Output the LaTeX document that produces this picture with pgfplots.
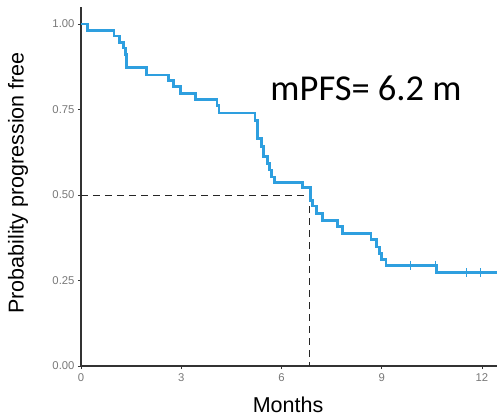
\documentclass[border=0pt]{standalone}
\usepackage{pgfplots}
\pgfplotsset{compat=1.18}
\usepackage{fontspec}
\setmainfont{Liberation Sans}
\newfontfamily\calibri{Carlito}
\definecolor{kmblue}{HTML}{2E9FDF}
\definecolor{ticklab}{RGB}{120,120,120}
\begin{document}
\begin{tikzpicture}
\useasboundingbox (-81pt,-52pt) rectangle (416pt,366pt);
\begin{axis}[
  scale only axis, width=416pt, height=359pt,
  xmin=0, xmax=12.45, ymin=0, ymax=1.05,
  axis lines*=left,
  axis line style={line width=1.1pt, color=black!80},
  xtick={0,3,6,9,12}, ytick={0,0.25,0.5,0.75,1},
  yticklabels={0.00,0.25,0.50,0.75,1.00},
  tick align=outside, tick style={line width=0.9pt, color=black!80},
  major tick length=3pt,
  tick label style={font=\fontsize{11.3}{13}\selectfont, color=ticklab},
  xticklabel style={yshift=-1pt},
  /pgf/number format/assume math mode=true,
  xlabel={Months}, ylabel={Probability progression free},
  label style={font=\fontsize{21.5}{24}\selectfont},
  xlabel style={at={(axis description cs:0.4976,0)}, anchor=base, yshift=-46.5pt},
  ylabel style={at={(axis description cs:-0.1515,0.51)}, anchor=center},
  clip=false,
]
\addplot[black!85, line width=1pt, dash pattern=on 7pt off 5pt] coordinates {(0,0.5) (6.85,0.5) (6.85,0)};
\addplot[const plot, kmblue, line width=2.8pt] coordinates {
(0,1.0) (0.19,0.982) (0.99,0.965) (1.16,0.946) (1.26,0.93) (1.33,0.912)
(1.37,0.873) (1.96,0.851) (2.61,0.835) (2.76,0.817) (2.98,0.798)
(3.43,0.780) (4.07,0.762) (4.13,0.740) (5.21,0.719) (5.29,0.666)
(5.40,0.641) (5.47,0.612) (5.57,0.592) (5.65,0.573) (5.70,0.553)
(5.78,0.537) (6.62,0.521) (6.86,0.485) (6.92,0.468) (7.05,0.445)
(7.23,0.425) (7.68,0.407) (7.83,0.388) (8.68,0.370) (8.85,0.348)
(8.93,0.329) (9.00,0.311) (9.13,0.295) (10.64,0.273) (12.45,0.273)
};
\addplot[only marks, mark=|, mark size=4.5pt, kmblue, mark options={line width=1.3pt}] coordinates {
(9.87,0.295) (10.6,0.295) (11.54,0.273) (11.96,0.273)
};
\node[font=\calibri\fontsize{36.5}{40}\selectfont] at (axis cs:8.53,0.813) {mPFS= 6.2 m};
\end{axis}
\end{tikzpicture}
\end{document}
